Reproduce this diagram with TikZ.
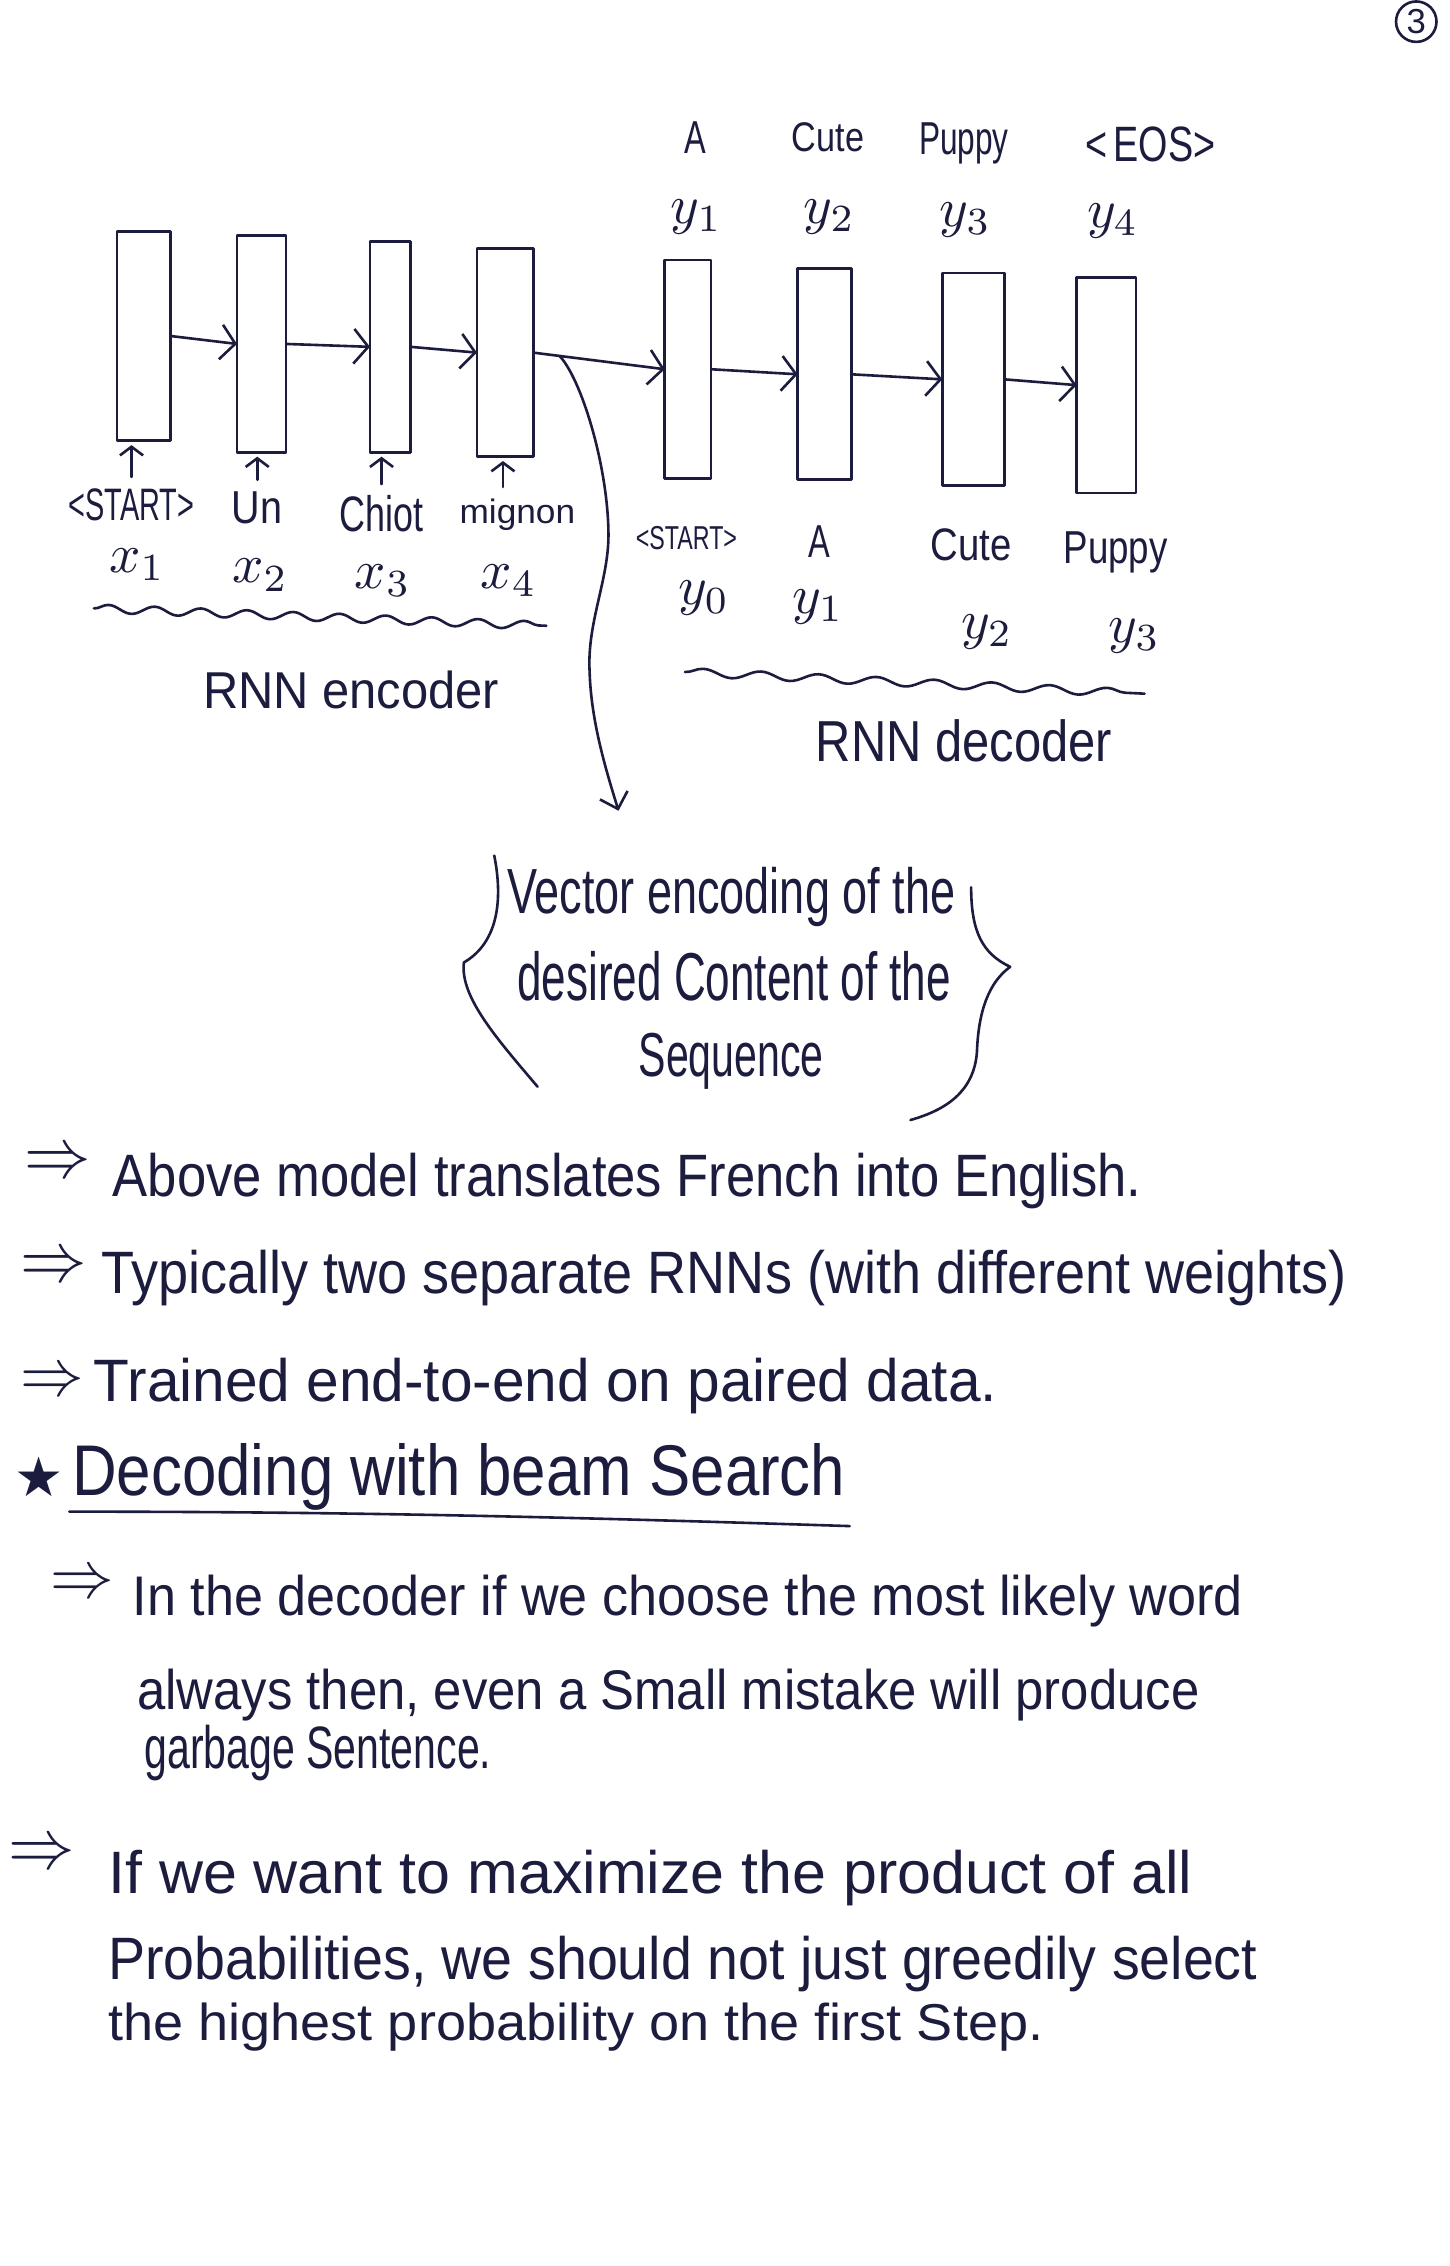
\documentclass[tikz,border=0pt]{standalone}
\usepackage{fontspec}
\setmainfont{Liberation Sans}
\newfontfamily\symfont{DejaVu Sans}
\usepackage{graphicx}
\usetikzlibrary{arrows.meta,calc,decorations.pathmorphing}
\definecolor{ink}{RGB}{28,28,62}
\newdimen\inku \inku=0.5pt
% text squeezed to a given width and height (in picture units)
\newcommand\hand[3]{\resizebox{#1\inku}{#2\inku}{#3}}
\newcommand\var[1]{\scalebox{1.9}{$#1$}}
\newcommand\implies[2]{\resizebox{#1\inku}{#2\inku}{$\Rightarrow$}}

\begin{document}
\begin{tikzpicture}[x=0.5pt,y=-0.5pt,line width=0.9pt,color=ink,
  line cap=round,line join=round,
  cell/.style 2 args={draw,rectangle,inner sep=0pt,outer sep=0pt,
    minimum width=#1*0.5pt,minimum height=#2*0.5pt},
  flow/.style={-{Straight Barb[length=5pt,width=12pt,line width=0.9pt]}},
  uparrow/.style={-{Straight Barb[length=3pt,width=8pt,line width=0.9pt]},shorten >=1.5pt},
  tiparrow/.style={-{Straight Barb[length=5pt,width=10pt,line width=0.9pt]}},
  txt/.style={inner sep=0pt,outer sep=0pt},
  wave/.style={decorate,decoration={snake,amplitude=1.4pt,segment length=#1}}]

\fill[white] (0,0) rectangle (1003,1568);
\useasboundingbox (0,0) rectangle (1003,1568);

% page number
\node[draw,circle,inner sep=0pt,minimum size=14pt,font=\large] (pg) at (980,15) {3};

% encoder cells
\node[cell={37}{145}] (e1) at (99.5,232.5) {};
\node[cell={34}{150}] (e2) at (181,238) {};
\node[cell={28}{146}] (e3) at (270,240) {};
\node[cell={39}{144}] (e4) at (349.5,244) {};
% decoder cells
\node[cell={32}{151}] (d1) at (476,255.5) {};
\node[cell={37}{146}] (d2) at (570.5,259) {};
\node[cell={43}{147}] (d3) at (673.5,262.5) {};
\node[cell={41}{149}] (d4) at (765.5,266.5) {};

% recurrent connections
\draw[flow] (e1.east) -- (e2.west);
\draw[flow] (e2.east) -- (e3.west);
\draw[flow] (e3.east) -- (e4.west);
\draw[flow] (e4.east) -- coordinate[pos=0.2] (tap) (d1.west);
\draw[flow] (d1.east) -- (d2.west);
\draw[flow] (d2.east) -- (d3.west);
\draw[flow] (d3.east) -- (d4.west);

% outputs above the decoder
\node[txt,anchor=base] (o1) at (481,106) {\hand{15}{22}{A}};
\node[txt,anchor=base] (o2) at (573,105) {\hand{50}{20}{Cute}};
\node[txt,anchor=base] (o3) at (667,107) {\hand{62}{22}{Puppy}};
\node[txt,anchor=base] (o4) at (796,112) {\hand{90}{24}{\textless\,EOS\textgreater}};
\node[txt] (t1) at (482,150) {\var{y_1}};
\node[txt] (t2) at (574,150) {\var{y_2}};
\node[txt] (t3) at (668,152) {\var{y_3}};
\node[txt] (t4) at (770,153) {\var{y_4}};

% encoder inputs
\node[txt,anchor=base] (in1) at (91,360) {\hand{87}{22}{\textless START\textgreater}};
\node[txt,anchor=base] (in2) at (178,362) {\hand{35}{22}{Un}};
\node[txt,anchor=base] (in3) at (264,368) {\hand{58}{25}{Chiot}};
\node[txt,anchor=base] (in4) at (358,362) {\hand{80}{17}{mignon}};
\node[txt] (xv1) at (95,391) {\var{x_1}};
\node[txt] (xv2) at (180,398) {\var{x_2}};
\node[txt] (xv3) at (265,402) {\var{x_3}};
\node[txt] (xv4) at (352,402) {\var{x_4}};

\draw[uparrow] ([yshift=4pt]in1.north) -- (in1.north |- e1.south);
\draw[uparrow] ([yshift=4pt]in2.north) -- (in2.north |- e2.south);
\draw[uparrow] ([yshift=4pt]in3.north) -- (in3.north |- e3.south);
\draw[uparrow] ([xshift=-5pt,yshift=4pt]in4.north) -- ([xshift=-5pt]in4.north |- e4.south);

% decoder inputs
\node[txt,anchor=base] (dn0) at (475,380) {\hand{70}{16}{\textless START\textgreater}};
\node[txt,anchor=base] (dn1) at (567,386) {\hand{15}{22}{A}};
\node[txt,anchor=base] (dn2) at (672,388) {\hand{56}{22}{Cute}};
\node[txt,anchor=base] (dn3) at (772,390) {\hand{72}{22}{Puppy}};
\node[txt] (dv0) at (487,414) {\var{y_0}};
\node[txt] (dv1) at (566,420) {\var{y_1}};
\node[txt] (dv2) at (683,437) {\var{y_2}};
\node[txt] (dv3) at (785,440) {\var{y_3}};

% wavy underlines and captions
\draw[wave=16pt] (65,421) -- (378,433);
\draw[wave=20pt] (474,465) -- (792,480);
\node[txt,anchor=base] (encname) at (243,490) {\hand{205}{26}{RNN encoder}};
\node[txt,anchor=base] (decname) at (667,527) {\hand{205}{29}{RNN decoder}};

% the encoded vector
\coordinate (vecend) at (428,561);
\draw[tiparrow] (tap) .. controls (402,262) and (420,320) .. (421,367)
  .. controls (422,400) and (406,430) .. (408,465)
  .. controls (409,500) and (420,535) .. (vecend);

\node[txt,anchor=base] (v1) at (506,632) {\hand{310}{32}{Vector encoding of the}};
\node[txt,anchor=base] (v2) at (508,692) {\hand{300}{34}{desired Content of the}};
\node[txt,anchor=base] (v3) at (506,745) {\hand{128}{30}{Sequence}};
\draw (342,592) .. controls (348,622) and (345,652) .. (321,666)
  .. controls (318,690) and (345,720) .. (372,752);
\draw (672,614) .. controls (672,645) and (680,660) .. (699,669)
  .. controls (684,680) and (677,700) .. (676,728)
  .. controls (674,755) and (655,768) .. (630,775);

% notes
\node[txt] (mA) at (40,806) {\implies{46}{18}};
\node[txt,anchor=base west] (pA) at (78,828) {\hand{712}{30}{Above model translates French into English.}};
\node[txt] (mB) at (37,878) {\implies{46}{18}};
\node[txt,anchor=base west] (pB) at (70,895) {\hand{862}{30}{Typically two separate RNNs (with different weights)}};
\node[txt] (mC) at (36,957) {\implies{44}{17}};
\node[txt,anchor=base west] (pC) at (65,970) {\hand{625}{30}{Trained end-to-end on paired data.}};

\node[txt] (mD) at (27,1022) {\resizebox{34\inku}{!}{\symfont ★}};
\node[txt,anchor=base west] (pD) at (50,1035) {\hand{535}{36}{Decoding with beam Search}};
\draw (48,1046) .. controls (250,1046) and (400,1050) .. (588,1056);

\node[txt] (mE) at (57,1097) {\implies{44}{17}};
\node[txt,anchor=base west] (pE) at (92,1118) {\hand{768}{28}{In the decoder if we choose the most likely word}};
\node[txt,anchor=base west] (pF) at (95,1183) {\hand{735}{28}{always then, even a Small mistake will produce}};
\node[txt,anchor=base west] (pG) at (100,1224) {\hand{240}{30}{garbage Sentence.}};

\node[txt] (mH) at (29,1284) {\implies{46}{18}};
\node[txt,anchor=base west] (pH) at (75,1310) {\hand{750}{30}{If we want to maximize the product of all}};
\node[txt,anchor=base west] (pI) at (75,1370) {\hand{795}{30}{Probabilities, we should not just greedily select}};
\node[txt,anchor=base west] (pJ) at (75,1412) {\hand{647}{26}{the highest probability on the first Step.}};
\end{tikzpicture}
\end{document}
